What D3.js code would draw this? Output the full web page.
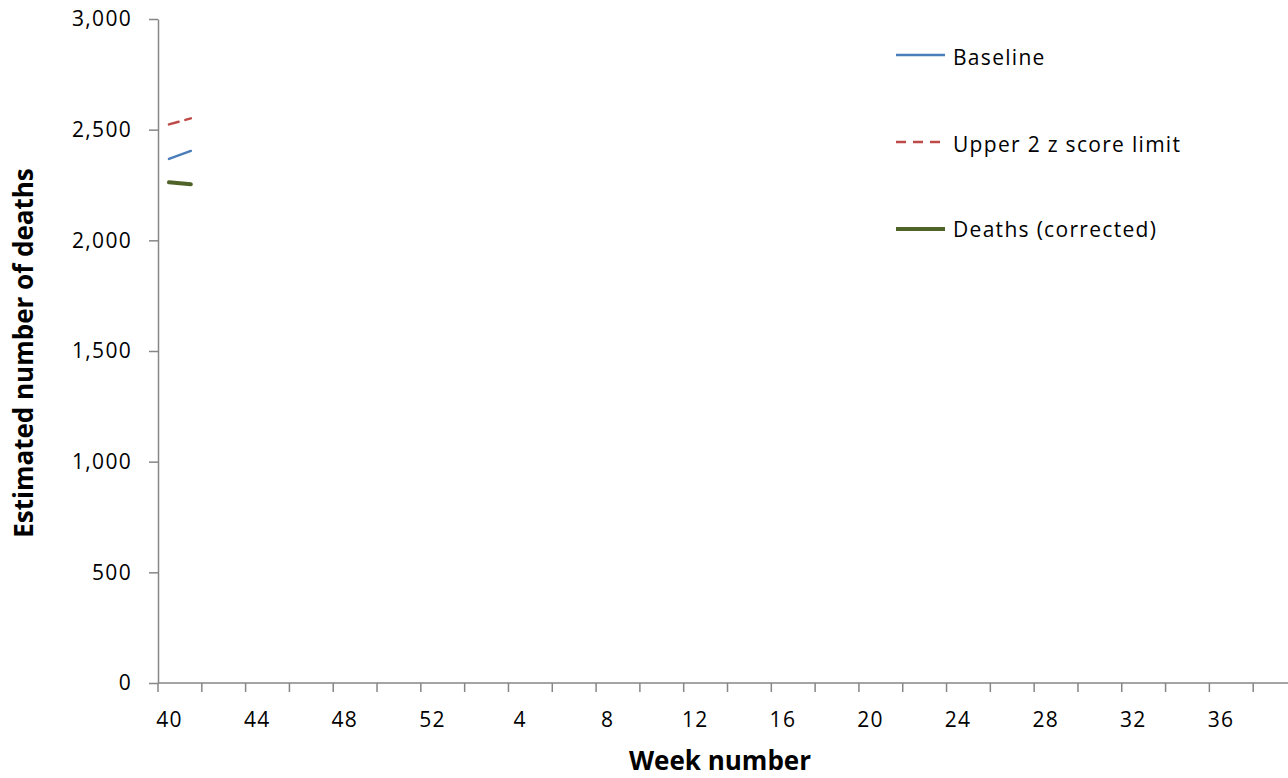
<!DOCTYPE html>
<html><head><meta charset="utf-8">
<script src="https://cdn.jsdelivr.net/npm/d3@7"></script>
<style>
body{margin:0;background:#fff;}
svg{display:block;}
text{font-family:"Open Sans",sans-serif;fill:#000;}
</style></head>
<body>
<svg id="chart" width="1288" height="778"></svg>
<script>
const weeks = [40,41,42,43,44,45,46,47,48,49,50,51,52,1,2,3,4,5,6,7,8,9,10,11,12,13,14,15,16,17,18,19,20,21,22,23,24,25,26,27,28,29,30,31,32,33,34,35,36,37,38,39];
const labelWeeks = [40,44,48,52,4,8,12,16,20,24,28,32,36];
const yTicks = [0,500,1000,1500,2000,2500,3000];
const baseline = [2368, 2404];
const upperLimit = [2524, 2551];
const deaths = [2262, 2253];
const seriesNames = ["Baseline","Upper 2 z score limit","Deaths (corrected)"];

(function(){
const svg = d3.select("#chart");
const mLeft = 158, mRight = 1297, mTop = 19, mBottom = 683;
const x = d3.scaleBand().domain(weeks.map(String)).range([mLeft, mRight]).padding(0);
const y = d3.scaleLinear().domain([0,3000]).range([mBottom, mTop]);
const axisColor = "#868686";
const fs = 21, ls = 1.3;

// Y axis
const yAxis = svg.append("g").attr("transform", `translate(${mLeft},0)`)
  .call(d3.axisLeft(y).tickValues(yTicks).tickFormat(d3.format(",")).tickSize(9).tickSizeOuter(0).tickPadding(17));
yAxis.select(".domain").attr("stroke", axisColor).attr("stroke-width", 1.5);
yAxis.selectAll(".tick line").attr("stroke", axisColor).attr("stroke-width", 1.5);
yAxis.selectAll(".tick text").style("font-size", fs+"px").style("letter-spacing", ls+"px")
  .style("font-family", '"Open Sans",sans-serif').attr("fill","#000");

// X axis line & ticks
const xg = svg.append("g");
xg.append("line").attr("x1", mLeft).attr("x2", mRight).attr("y1", mBottom).attr("y2", mBottom)
  .attr("stroke", axisColor).attr("stroke-width", 1.5);
xg.selectAll("line.tk").data(weeks.filter((w,i)=>i%2===0)).join("line").attr("class","tk")
  .attr("x1", d=>x(String(d))).attr("x2", d=>x(String(d)))
  .attr("y1", mBottom).attr("y2", mBottom+9).attr("stroke", axisColor).attr("stroke-width", 1.5);
xg.selectAll("text.lb").data(labelWeeks).join("text").attr("class","lb")
  .attr("x", d=>x(String(d))+x.bandwidth()/2 + ls/2).attr("y", 727)
  .attr("text-anchor","middle").style("font-size", fs+"px").style("letter-spacing", ls+"px").text(d=>d);

// Titles
svg.append("text").attr("x", 720).attr("y", 770).attr("text-anchor","middle")
  .style("font-size","26px").style("font-weight","bold").text("Week number");
svg.append("text").attr("transform","translate(33,353) rotate(-90)").attr("text-anchor","middle")
  .style("font-size","26px").style("font-weight","bold").text("Estimated number of deaths");

// Lines
const line = d3.line().x((d,i)=>x(String(weeks[i]))+x.bandwidth()/2).y(d=>y(d));
const styles = [
  {data: baseline, color:"#4A7EBB", width:2.5, dash:null},
  {data: upperLimit, color:"#BE4B48", width:2.5, dash:"10,7"},
  {data: deaths, color:"#4F6228", width:4, dash:null}
];
styles.forEach(s=>{
  svg.append("path").datum(s.data).attr("d", line).attr("fill","none")
    .attr("stroke", s.color).attr("stroke-width", s.width)
    .attr("stroke-dasharray", s.dash).attr("stroke-linecap","round");
});

// Legend
const legLineY = [55, 142, 229];
const legTextY = [65, 152, 237];
const lg = svg.append("g");
styles.forEach((s,i)=>{
  lg.append("line").attr("x1",896).attr("x2",945).attr("y1",legLineY[i]).attr("y2",legLineY[i])
    .attr("stroke", s.color).attr("stroke-width", s.width).attr("stroke-dasharray", s.dash);
  lg.append("text").attr("x",953).attr("y",legTextY[i]).style("font-size", fs+"px")
    .style("letter-spacing", ls+"px").text(seriesNames[i]);
});
})();
</script>
</body></html>
